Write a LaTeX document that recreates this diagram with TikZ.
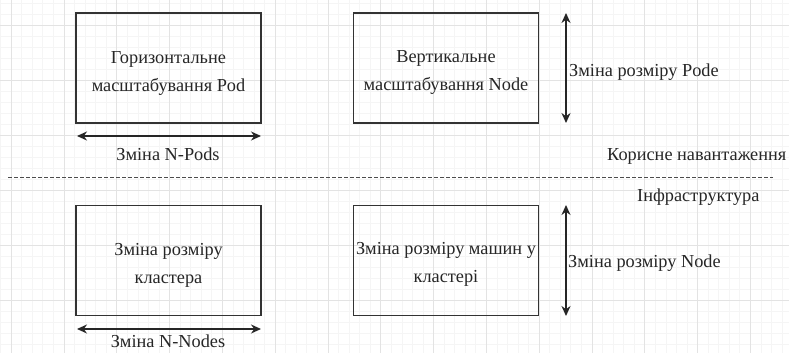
\documentclass[tikz,border=0pt]{standalone}
\usepackage{fontspec}
\setmainfont{Liberation Serif}
\usetikzlibrary{arrows.meta}
\begin{document}
\begin{tikzpicture}[x=1pt,y=-1pt,
  box/.style={draw=black!80,line width=1.6pt,minimum width=185pt,minimum height=110pt,inner sep=0pt},
  boxtext/.style={align=center,inner sep=0pt,font=\fontsize{18.3}{28}\selectfont,text=black!85},
  lbl/.style={font=\fontsize{18.3}{21}\selectfont,text=black!85,inner sep=0pt},
  dbl/.style={line width=1.4pt,draw=black!85,{Stealth[length=10pt,width=9pt]}-{Stealth[length=10pt,width=9pt]}}]
  \useasboundingbox (0,0) rectangle (789,353);
  % background grid
  \fill[white] (0,0) rectangle (789,353);
  \foreach \i in {0,...,80} {
    \draw[black!4,line width=0.4pt] ({11+10.56*(\i-1)},0) -- ({11+10.56*(\i-1)},353);
  }
  \foreach \i in {0,...,35} {
    \draw[black!4,line width=0.4pt] (0,{-30+11*\i}) -- (789,{-30+11*\i});
  }
  \foreach \i in {0,...,15} {
    \draw[black!11,line width=0.5pt] ({11+52.8*\i},0) -- ({11+52.8*\i},353);
  }
  \foreach \i in {0,...,7} {
    \draw[black!11,line width=0.5pt] (0,{-30+55*\i}) -- (789,{-30+55*\i});
  }

  % scaling boxes
  \node[box] (hpod) at (168.5,68) {};
  \node[box] (vnode) at (446,68) {};
  \node[box] (rclus) at (168.5,260.5) {};
  \node[box] (rmach) at (446,260.5) {};
  \node[boxtext] (hpodt) at ([yshift=-5pt]hpod.center) {Горизонтальне\\масштабування Pod};
  \node[boxtext] (vnodet) at ([yshift=-4pt]vnode.center) {Вертикальне\\масштабування Node};
  \node[boxtext] (rclust) at ([yshift=-5pt]rclus.center) {Зміна розміру\\кластера};
  \node[boxtext] (rmacht) at ([yshift=-4pt]rmach.center) {Зміна розміру машин у\\кластері};

  % arrow end points
  \coordinate (a1l) at (77,136);   \coordinate (a1r) at (261,136);
  \coordinate (a2t) at (566,13);   \coordinate (a2b) at (566,123);
  \coordinate (a3l) at (77,329);   \coordinate (a3r) at (261,329);
  \coordinate (a4t) at (566,205);  \coordinate (a4b) at (566,316);
  \draw[dbl] (a1l) -- (a1r);
  \draw[dbl] (a2t) -- (a2b);
  \draw[dbl] (a3l) -- (a3r);
  \draw[dbl] (a4t) -- (a4b);

  % labels
  \node[lbl] (npods) at (168,154) {Зміна N-Pods};
  \node[lbl] (nnodes) at (168,341) {Зміна N-Nodes};
  \node[lbl,anchor=west] (rpode) at (569,72) {Зміна розміру Pode};
  \node[lbl,anchor=west] (rnode) at (568,263) {Зміна розміру Node};
  \node[lbl,anchor=west] (payload) at (607,156) {Корисне навантаження};
  \node[lbl,anchor=west] (infra) at (637,197) {Інфраструктура};

  % layer separator
  \coordinate (sepl) at (8,177);
  \coordinate (sepr) at (773,177);
  \draw[black!70,line width=1pt,dash pattern=on 3.5pt off 2.5pt] (sepl) -- (sepr);
\end{tikzpicture}
\end{document}
